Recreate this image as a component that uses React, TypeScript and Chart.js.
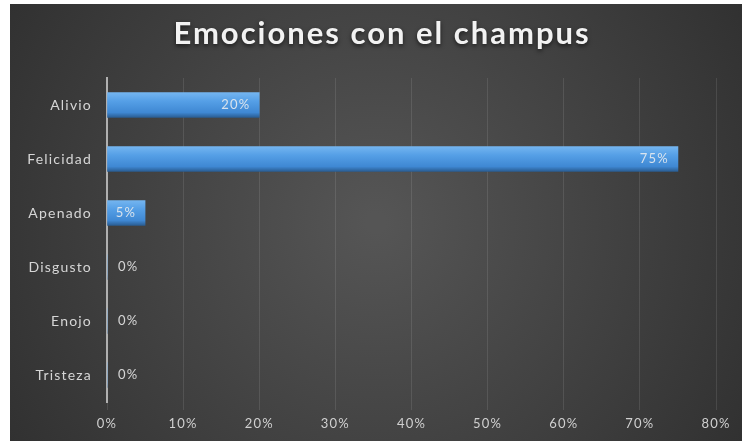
import React, { useEffect, useRef } from "react";
import { Chart, registerables } from "chart.js";

Chart.register(...registerables);

const TITLE = "Emociones con el champus";
const categories = ["Alivio", "Felicidad", "Apenado", "Disgusto", "Enojo", "Tristeza"];
const values = [0.2, 0.75, 0.05, 0, 0, 0];
const xTicks = [0, 0.1, 0.2, 0.3, 0.4, 0.5, 0.6, 0.7, 0.8];

const FONT = "Lato, 'Open Sans', sans-serif";
const SPACING = "1.2px";

const pct = (v: number) => `${Math.round(v * 100)}%`;

const bgPlugin = {
  id: "bg",
  beforeUpdate(chart: any) {
    (chart.ctx as any).letterSpacing = SPACING;
  },
  beforeDraw(chart: any) {
    const { ctx, width, height } = chart;
    (ctx as any).letterSpacing = SPACING;
    ctx.save();
    const g = ctx.createRadialGradient(width * 0.5, height * 0.5, 10, width * 0.5, height * 0.5, width * 0.6);
    g.addColorStop(0, "#555555");
    g.addColorStop(1, "#303030");
    ctx.fillStyle = g;
    ctx.fillRect(0, 0, width, height);
    ctx.restore();
  },
  afterDraw(chart: any) {
    const { ctx, width } = chart;
    ctx.save();
    ctx.font = `bold 31px ${FONT}`;
    (ctx as any).letterSpacing = "2px";
    ctx.fillStyle = "#f2f2f2";
    ctx.textAlign = "center";
    ctx.textBaseline = "middle";
    ctx.shadowColor = "rgba(0,0,0,0.6)";
    ctx.shadowBlur = 4;
    ctx.shadowOffsetY = 2;
    ctx.fillText(TITLE, width / 2 + 6, 30);
    ctx.restore();

    // data labels
    const meta = chart.getDatasetMeta(0);
    const xScale = chart.scales.x;
    ctx.save();
    ctx.font = `13px ${FONT}`;
    (ctx as any).letterSpacing = SPACING;
    ctx.fillStyle = "rgba(240,240,240,0.85)";
    ctx.textBaseline = "middle";
    meta.data.forEach((bar: any, i: number) => {
      const v = values[i];
      const label = pct(v);
      if (v === 0) {
        ctx.textAlign = "left";
        ctx.fillText(label, xScale.getPixelForValue(0) + 11, bar.y);
      } else {
        ctx.textAlign = "right";
        ctx.fillText(label, bar.x - 9, bar.y);
      }
    });
    ctx.restore();
  },
};

export default function App() {
  const ref = useRef<HTMLCanvasElement>(null);
  useEffect(() => {
    document.body.style.margin = "0";
    const canvas = ref.current!;
    const chart = new Chart(canvas, {
      type: "bar",
      data: {
        labels: categories,
        datasets: [
          {
            data: values,
            backgroundColor: (c: any) => {
              const ch = c.chart;
              const ys = ch.scales && ch.scales.y;
              if (!ys || c.dataIndex === undefined) return "#4a90d9";
              const cy = ys.getPixelForValue(c.dataIndex);
              if (!isFinite(cy)) return "#4a90d9";
              const h = 25;
              const g = ch.ctx.createLinearGradient(0, cy - h / 2, 0, cy + h / 2);
              g.addColorStop(0, "#74b5f0");
              g.addColorStop(0.35, "#559fe6");
              g.addColorStop(0.8, "#3f88d3");
              g.addColorStop(1, "#2a5d92");
              return g;
            },
            borderWidth: 0,
            barThickness: 25,
          },
        ],
      },
      options: {
        indexAxis: "y",
        animation: false,
        responsive: false,
        maintainAspectRatio: false,
        layout: { padding: { left: 0, top: 74, right: 26, bottom: 0 } },
        plugins: { legend: { display: false }, title: { display: false }, tooltip: { enabled: false } },
        scales: {
          x: {
            min: 0,
            max: 0.8,
            afterBuildTicks: (s: any) => {
              s.ticks = xTicks.map((v) => ({ value: v }));
            },
            afterFit: (s: any) => {
              s.height = 39;
            },
            ticks: {
              color: "#d0d0d0",
              font: { family: FONT, size: 13 },
              padding: 6,
              callback: (v: any) => pct(Number(v)),
            },
            grid: { color: "rgba(255,255,255,0.10)", tickLength: 8, tickColor: "rgba(255,255,255,0.10)" },
            border: { display: false },
          },
          y: {
            afterFit: (s: any) => {
              s.width = 97;
            },
            ticks: {
              color: "#d6d6d6",
              font: { family: FONT, size: 14 },
              padding: 15,
            },
            grid: { display: false, drawTicks: false },
            border: { display: true, color: "#b0b0b0", width: 2 },
          },
        },
      },
      plugins: [bgPlugin],
    } as any);
    return () => chart.destroy();
  }, []);
  return (
    <div style={{ position: "absolute", left: 10, top: 4, width: 732, height: 437 }}>
      <canvas ref={ref} width={732} height={437} style={{ display: "block" }} />
    </div>
  );
}
